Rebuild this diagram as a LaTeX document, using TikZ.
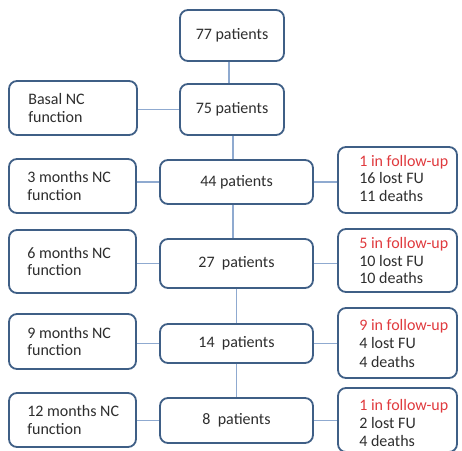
\documentclass[tikz,border=0pt]{standalone}
\usepackage{fontspec}
\setmainfont{Carlito}
\definecolor{bordcol}{HTML}{3F5F86}
\definecolor{conncol}{HTML}{8FAAD0}
\definecolor{txtcol}{HTML}{2E2E2E}
\definecolor{redcol}{HTML}{E03A3E}
\begin{document}
\begin{tikzpicture}[x=1pt,y=-1pt,
  box/.style={draw=bordcol, line width=1.8pt, rounded corners=8pt, fill=white, inner sep=0pt,
              text=txtcol, font=\fontsize{16}{17.5}\selectfont},
  connline/.style={draw=conncol, line width=1.4pt},
  txt/.style={text=txtcol, font=\fontsize{16}{17.5}\selectfont, align=left, inner sep=0pt, anchor=west},
  lbox/.style={box, minimum width=127pt},
  cbox/.style={box, minimum width=153pt},
  rbox/.style={box, minimum width=119pt}
]
\useasboundingbox (0,0) rectangle (462,450);

% centre column
\node[box, minimum width=104pt, minimum height=51pt] (n77) at (232,35.5) {77 patients};
\node[box, minimum width=104pt, minimum height=51pt] (n75) at (232,109.5) {75 patients};
\node[cbox, minimum height=44pt] (n44) at (236.5,182) {44 patients};
\node[cbox, minimum height=49pt] (n27) at (236.5,263.5) {27\ \ patients};
\node[cbox, minimum height=39pt] (n14) at (236.5,343.5) {14\ \ patients};
\node[cbox, minimum height=45pt] (n8)  at (236.5,420.5) {8\ \ patients};

% left column
\node[lbox, minimum width=128pt, minimum height=54pt] (lb) at (73,108) {};
\node[lbox, minimum height=54pt] (l3)  at (72.5,186) {};
\node[lbox, minimum height=63pt] (l6)  at (72.5,261.5) {};
\node[lbox, minimum height=55pt] (l9)  at (72.5,341.5) {};
\node[lbox, minimum height=54pt] (l12) at (72.5,420) {};
\node[txt] (lbt)  at ([xshift=20pt]lb.west)  {Basal NC\\function};
\node[txt] (l3t)  at ([xshift=19pt]l3.west)  {3 months NC\\function};
\node[txt] (l6t)  at ([xshift=19pt]l6.west)  {6 months NC\\function};
\node[txt] (l9t)  at ([xshift=19pt]l9.west)  {9 months NC\\function};
\node[txt] (l12t) at ([xshift=19pt]l12.west) {12 months NC\\function};

% right column
\node[rbox, minimum height=66pt] (r1) at (397.5,180) {};
\node[rbox, minimum height=63pt] (r2) at (397.5,260.5) {};
\node[rbox, minimum height=70pt] (r3) at (397.5,343) {};
\node[rbox, minimum height=64pt] (r4) at (397.5,420) {};
\node[txt] (r1t) at ([xshift=22pt,yshift=2pt]r1.west) {\textcolor{redcol}{1 in follow-up}\\16 lost FU\\11 deaths};
\node[txt] (r2t) at ([xshift=22pt]r2.west) {\textcolor{redcol}{5 in follow-up}\\10 lost FU\\10 deaths};
\node[txt, font=\fontsize{16}{18.5}\selectfont] (r3t) at ([xshift=22pt]r3.west) {\textcolor{redcol}{9 in follow-up}\\4 lost FU\\4 deaths};
\node[txt, font=\fontsize{16}{18}\selectfont] (r4t) at ([xshift=22pt,yshift=-3pt]r4.west) {\textcolor{redcol}{1 in follow-up}\\2 lost FU\\4 deaths};

% vertical connectors
\draw[connline] ([xshift=-3pt]n77.south) -- ([xshift=-3pt]n75.north);
\draw[connline] ([xshift=1pt]n75.south) -- ([xshift=-3.5pt]n44.north);
\draw[connline] ([xshift=-3.5pt]n44.south) -- ([xshift=-3.5pt]n27.north);
\draw[connline] (n27.south) -- (n14.north);
\draw[connline] (n14.south) -- (n8.north);

% horizontal connectors
\draw[connline] (lb.east |- n75.west) -- (n75.west);
\draw[connline] (l3.east |- n44.west) -- (n44.west);
\draw[connline] (l6.east |- n27.west) -- (n27.west);
\draw[connline] (l9.east |- n14.west) -- (n14.west);
\draw[connline] (l12.east |- n8.west) -- (n8.west);
\draw[connline] (n44.east) -- (n44.east -| r1.west);
\draw[connline] (n27.east) -- (n27.east -| r2.west);
\draw[connline] (n14.east) -- (n14.east -| r3.west);
\draw[connline] (n8.east) -- (n8.east -| r4.west);
\end{tikzpicture}
\end{document}
